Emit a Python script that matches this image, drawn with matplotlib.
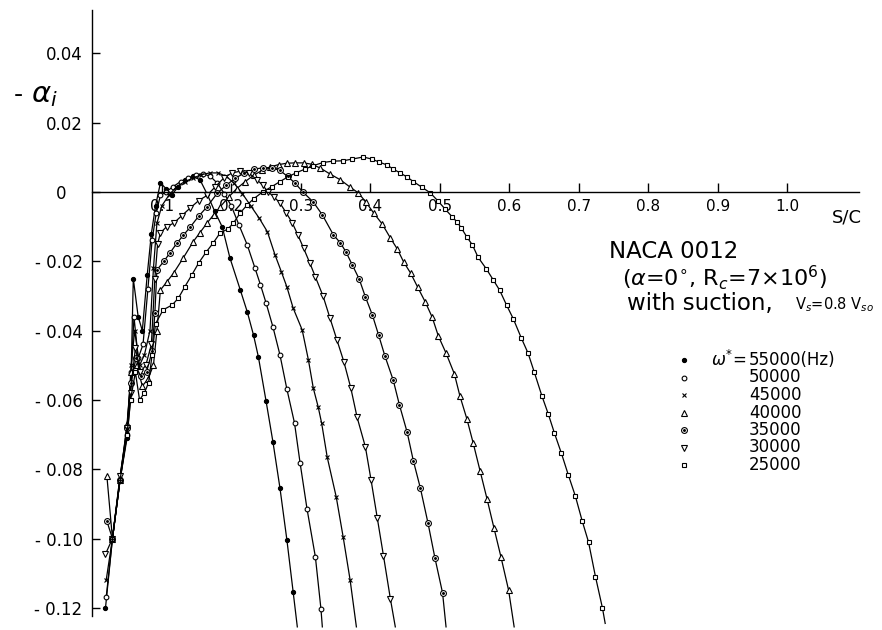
import matplotlib
matplotlib.use("Agg")
import matplotlib.pyplot as plt
import numpy as np

# ---- data: s/c and -alpha_i for each frequency ----
freqs = [55000, 50000, 45000, 40000, 35000, 30000, 25000]

s_55000 = [0.019, 0.029, 0.040, 0.050, 0.055, 0.059, 0.066, 0.072, 0.079, 0.085,
           0.091, 0.098, 0.106, 0.114, 0.124, 0.134, 0.145, 0.155, 0.165, 0.176,
           0.187, 0.198, 0.213, 0.223, 0.232, 0.239, 0.250, 0.260, 0.270, 0.280,
           0.289, 0.295]
a_55000 = [-0.120, -0.100, -0.083, -0.071, -0.060, -0.025, -0.036, -0.040, -0.024, -0.012,
           -0.004, 0.0026, 0.001, -0.0008, 0.0015, 0.0035, 0.0045, 0.0035, -0.0005, -0.0055,
           -0.0101, -0.019, -0.0283, -0.0346, -0.0413, -0.0476, -0.0603, -0.0722, -0.0854, -0.1004,
           -0.1154, -0.1255]

s_50000 = [0.020, 0.029, 0.040, 0.050, 0.056, 0.060, 0.066, 0.073, 0.080, 0.086,
           0.092, 0.098, 0.106, 0.116, 0.127, 0.138, 0.149, 0.160, 0.170, 0.180,
           0.190, 0.200, 0.211, 0.223, 0.234, 0.242, 0.250, 0.260, 0.270, 0.280,
           0.291, 0.299, 0.309, 0.321, 0.329, 0.331]
a_50000 = [-0.117, -0.100, -0.083, -0.070, -0.052, -0.036, -0.048, -0.044, -0.028, -0.014,
           -0.006, -0.001, 0.0, 0.0015, 0.003, 0.004, 0.005, 0.0052, 0.0045, 0.0025,
           -0.0005, -0.004, -0.0095, -0.0153, -0.0219, -0.0268, -0.032, -0.039, -0.047, -0.0569,
           -0.0667, -0.0782, -0.0915, -0.1053, -0.1203, -0.1255]

s_45000 = [0.020, 0.029, 0.040, 0.050, 0.056, 0.061, 0.068, 0.075, 0.083, 0.088,
           0.093, 0.100, 0.110, 0.121, 0.133, 0.145, 0.157, 0.169, 0.181, 0.193,
           0.204, 0.216, 0.228, 0.240, 0.252, 0.263, 0.272, 0.280, 0.289, 0.302,
           0.311, 0.318, 0.325, 0.330, 0.338, 0.351, 0.361, 0.371, 0.380]
a_45000 = [-0.112, -0.100, -0.082, -0.069, -0.050, -0.040, -0.050, -0.047, -0.040, -0.022,
           -0.009, -0.004, -0.001, 0.0015, 0.003, 0.004, 0.005, 0.0055, 0.0055, 0.0045,
           0.0025, -0.0005, -0.004, -0.0075, -0.0115, -0.0182, -0.023, -0.0274, -0.0335, -0.0398,
           -0.0485, -0.0566, -0.062, -0.0667, -0.0765, -0.088, -0.0996, -0.112, -0.1255]

s_40000 = [0.021, 0.029, 0.040, 0.050, 0.056, 0.064, 0.072, 0.080, 0.088, 0.093,
           0.098, 0.107, 0.117, 0.131, 0.145, 0.155, 0.165, 0.175, 0.184, 0.196,
           0.208, 0.220, 0.232, 0.244, 0.256, 0.268, 0.280, 0.292, 0.304, 0.316,
           0.328, 0.342, 0.357, 0.371, 0.383, 0.394, 0.405, 0.417, 0.429, 0.439,
           0.448, 0.458, 0.468, 0.479, 0.489, 0.498, 0.509, 0.521, 0.529, 0.539,
           0.548, 0.558, 0.568, 0.578, 0.588, 0.599, 0.607]
a_40000 = [-0.082, -0.100, -0.083, -0.067, -0.052, -0.050, -0.056, -0.054, -0.050, -0.040,
           -0.0283, -0.026, -0.0234, -0.019, -0.0144, -0.0117, -0.009, -0.0065, -0.0043, -0.0015,
           0.001, 0.003, 0.0048, 0.0062, 0.0072, 0.0079, 0.0083, 0.0084, 0.0084, 0.008,
           0.0069, 0.0052, 0.0035, 0.0014, -0.0003, -0.003, -0.0061, -0.0092, -0.0133, -0.0165,
           -0.0202, -0.0234, -0.0274, -0.0317, -0.0361, -0.0416, -0.0465, -0.0525, -0.0589, -0.0655,
           -0.0724, -0.0805, -0.0886, -0.097, -0.1053, -0.1149, -0.1255]

s_35000 = [0.021, 0.029, 0.040, 0.050, 0.055, 0.063, 0.070, 0.078, 0.086, 0.090,
           0.093, 0.103, 0.112, 0.122, 0.131, 0.141, 0.153, 0.165, 0.180, 0.193,
           0.206, 0.219, 0.232, 0.245, 0.258, 0.270, 0.281, 0.292, 0.303, 0.318,
           0.331, 0.347, 0.357, 0.365, 0.374, 0.384, 0.393, 0.403, 0.412, 0.421,
           0.433, 0.442, 0.453, 0.462, 0.472, 0.483, 0.493, 0.504, 0.509]
a_35000 = [-0.095, -0.100, -0.083, -0.068, -0.055, -0.048, -0.053, -0.052, -0.046, -0.035,
           -0.0225, -0.020, -0.0175, -0.0147, -0.0125, -0.0101, -0.007, -0.0043, -0.0003, 0.002,
           0.004, 0.0055, 0.0065, 0.007, 0.007, 0.0062, 0.0045, 0.0025, 0.0, -0.0029,
           -0.0066, -0.0124, -0.0147, -0.0173, -0.021, -0.0251, -0.0303, -0.0355, -0.0413, -0.0473,
           -0.0543, -0.0615, -0.0693, -0.0776, -0.0854, -0.0955, -0.1056, -0.1157, -0.1255]

s_30000 = [0.019, 0.029, 0.040, 0.050, 0.055, 0.062, 0.069, 0.077, 0.085, 0.090,
           0.094, 0.098, 0.107, 0.117, 0.129, 0.141, 0.153, 0.165, 0.177, 0.189,
           0.201, 0.213, 0.225, 0.237, 0.245, 0.253, 0.262, 0.270, 0.279, 0.288,
           0.296, 0.304, 0.313, 0.321, 0.332, 0.342, 0.352, 0.362, 0.372, 0.381,
           0.393, 0.401, 0.410, 0.419, 0.429, 0.436]
a_30000 = [-0.1045, -0.100, -0.082, -0.068, -0.058, -0.045, -0.052, -0.050, -0.044, -0.025,
           -0.015, -0.0118, -0.010, -0.009, -0.0068, -0.0046, -0.0025, -0.001, 0.0015, 0.004,
           0.0055, 0.006, 0.0055, 0.0035, 0.002, 0.0, -0.0015, -0.0032, -0.006, -0.009,
           -0.0125, -0.0162, -0.0205, -0.0245, -0.030, -0.0364, -0.0427, -0.049, -0.0566, -0.065,
           -0.0736, -0.083, -0.094, -0.105, -0.1175, -0.1255]

s_25000 = [0.029, 0.040, 0.050, 0.055, 0.062, 0.068, 0.075, 0.081, 0.086, 0.091,
           0.102, 0.115, 0.124, 0.133, 0.143, 0.153, 0.164, 0.174, 0.184, 0.195,
           0.203, 0.213, 0.223, 0.232, 0.245, 0.258, 0.270, 0.281, 0.293, 0.306,
           0.318, 0.332, 0.346, 0.361, 0.374, 0.390, 0.402, 0.412, 0.424, 0.433,
           0.443, 0.453, 0.462, 0.474, 0.486, 0.497, 0.508, 0.518, 0.525, 0.531,
           0.539, 0.547, 0.555, 0.567, 0.577, 0.586, 0.596, 0.606, 0.617, 0.627,
           0.636, 0.647, 0.656, 0.665, 0.675, 0.685, 0.695, 0.705, 0.714, 0.724,
           0.734, 0.738]
a_25000 = [-0.100, -0.083, -0.070, -0.060, -0.052, -0.060, -0.058, -0.055, -0.047, -0.038,
           -0.034, -0.0326, -0.0306, -0.0274, -0.024, -0.0205, -0.0173, -0.0147, -0.0118, -0.0107,
           -0.009, -0.006, -0.0037, -0.002, 0.0, 0.0015, 0.003, 0.0043, 0.0055, 0.0066,
           0.0076, 0.0085, 0.0089, 0.009, 0.0095, 0.0101, 0.0095, 0.0087, 0.0078, 0.0066,
           0.0055, 0.0043, 0.003, 0.0014, -0.0002, -0.0025, -0.005, -0.0072, -0.0087, -0.0104,
           -0.013, -0.0153, -0.0188, -0.0222, -0.0254, -0.0283, -0.0326, -0.0367, -0.042, -0.0465,
           -0.052, -0.0589, -0.064, -0.0696, -0.0754, -0.0817, -0.0877, -0.095, -0.101, -0.111,
           -0.120, -0.1245]

x_ticks = [0.1, 0.2, 0.3, 0.4, 0.5, 0.6, 0.7, 0.8, 0.9, 1.0]
x_tick_labels = ["0.1", "0.2", "0.3", "0.4", "0.5", "0.6", "0.7", "0.8", "0.9", "1.0"]
y_ticks = [0.04, 0.02, 0.0, -0.02, -0.04, -0.06, -0.08, -0.10, -0.12]
y_tick_labels = ["0.04", "0.02", "0\u2007\u2008", "- 0.02", "- 0.04", "- 0.06",
                 "- 0.08", "- 0.10", "- 0.12"]

series = [
    (s_55000, a_55000),
    (s_50000, a_50000),
    (s_45000, a_45000),
    (s_40000, a_40000),
    (s_35000, a_35000),
    (s_30000, a_30000),
    (s_25000, a_25000),
]

# marker styles per frequency (same order as freqs)
STYLES = [
    dict(marker="o", ms=3.0, mfc="black"),
    dict(marker="o", ms=3.4, mfc="white"),
    dict(marker="x", ms=3.4, mfc="none"),
    dict(marker="^", ms=4.0, mfc="white"),
    dict(marker="o", ms=4.2, mfc="white"),
    dict(marker="v", ms=4.0, mfc="white"),
    dict(marker="s", ms=3.4, mfc="white"),
]

W, H = 882, 630


def fig_xy(px, py):
    """pixel position in the picture -> figure fraction"""
    return px / W, 1 - py / H


fig = plt.figure(figsize=(W / 100, H / 100), dpi=100)
ax = fig.add_axes([0, 0, 1, 1])
ax.set_xlim(-0.1328, 1.1363)
ax.set_ylim(-0.1264, 0.0554)

# curves run off the bottom edge, so no marker on their last point
for (s, a), style in zip(series, STYLES):
    ax.plot(s, a, color="black", lw=0.9, mec="black", mew=0.8,
            markevery=slice(0, len(s) - 1), **style)

# dot in the middle of the 35000 markers
ax.plot(s_35000[:-1], a_35000[:-1], ls="none", marker="o", ms=1.1, color="black")

# axes drawn through the origin like the original drawing
for side in ("top", "right"):
    ax.spines[side].set_visible(False)
ax.spines["left"].set_position(("data", 0))
ax.spines["bottom"].set_position(("data", 0))
ax.spines["left"].set_bounds(-0.1225, 0.0525)
ax.spines["bottom"].set_bounds(0, 1.103)
for side in ("left", "bottom"):
    ax.spines[side].set_linewidth(1.0)

ax.set_xticks(x_ticks, x_tick_labels, fontsize=11)
ax.set_yticks(y_ticks, y_tick_labels, fontsize=12)
ax.tick_params(axis="x", direction="in", length=6.5, width=1.0, pad=5)
ax.tick_params(axis="y", direction="in", length=6, width=1.0, pad=7)

ax.text(*fig_xy(18, 95), "-", transform=fig.transFigure,
        fontsize=18, ha="center", va="center")
ax.text(*fig_xy(44, 95), r"$\alpha_i$", transform=fig.transFigure,
        fontsize=21, ha="center", va="center")
ax.text(*fig_xy(847, 218), "S/C", transform=fig.transFigure,
        fontsize=13, ha="center", va="center")

ax.text(*fig_xy(609, 252), "NACA 0012", transform=fig.transFigure,
        fontsize=16.5, ha="left", va="center")
ax.text(*fig_xy(622, 278), r"($\alpha$=0$^{\circ}$, R$_c$=7$\times$10$^6$)",
        transform=fig.transFigure, fontsize=16, ha="left", va="center")
ax.text(*fig_xy(627, 303), "with suction,", transform=fig.transFigure,
        fontsize=16.5, ha="left", va="center")
ax.text(*fig_xy(795, 305), r"V$_s$=0.8 V$_{so}$", transform=fig.transFigure,
        fontsize=10.5, ha="left", va="center")

# legend drawn by hand, as in the original
for i, (f, style) in enumerate(zip(freqs, STYLES)):
    mx, my = fig_xy(684, 360 + i * 17.5)
    ax.plot([mx], [my], transform=fig.transFigure, color="black", ls="none",
            mec="black", mew=0.8, clip_on=False, **style)
    if f == 35000:
        ax.plot([mx], [my], transform=fig.transFigure, ls="none", marker="o",
                ms=1.1, color="black", clip_on=False)
    label = f"{f}(Hz)" if i == 0 else f"{f}"
    ax.text(*fig_xy(749, 360 + i * 17.5), label, transform=fig.transFigure,
            fontsize=12, ha="left", va="center")
ax.text(*fig_xy(746, 360), r"$\omega^{*}$=", transform=fig.transFigure,
        fontsize=12, ha="right", va="center")

fig.savefig("out.png", dpi=100)
